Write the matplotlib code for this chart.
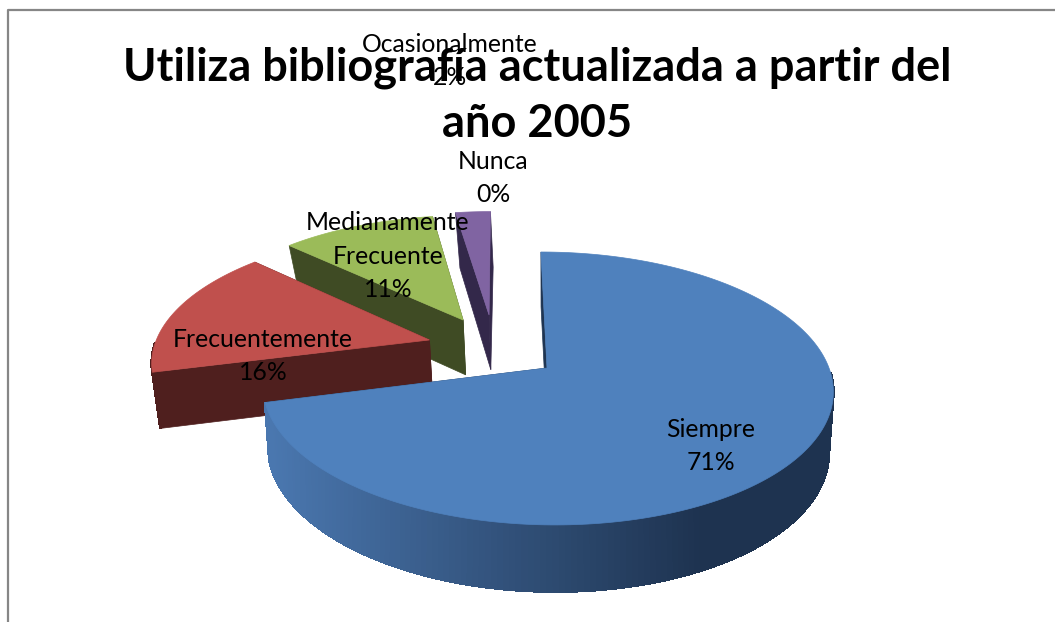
import matplotlib
matplotlib.use('Agg')
import numpy as np
import matplotlib.pyplot as plt
from matplotlib.colors import to_rgb

plt.rcParams['font.family'] = ['Lato', 'DejaVu Sans']

title = 'Utiliza bibliografía actualizada a partir del\naño 2005'
categories = ['Siempre', 'Frecuentemente', 'Medianamente\nFrecuente', 'Ocasionalmente', 'Nunca']
values = [71, 16, 10.6, 2.4, 0]

top_colors = ['#4F81BD', '#C0504D', '#9BBB59', '#8064A2', '#4BACC6']
side_colors = ['#1F3552', '#4F1F1E', '#3F4B24', '#33284A', '#1E4550']
# how far each slice is pulled out of the pie (in radii, x right / y towards viewer)
offsets = [(0, 0), (-0.425, -0.217), (-0.305, -0.38), (-0.208, -0.4225), (0, 0)]
label_pos = [(711, 446), (263, 356), (388, 256), (450, 61), (493, 178)]

cx, cy = 547, 368


def top_plane(x, y):
    d = 1 - 0.15 * y
    return cx + (282 * x + 7 * y) / d, cy + 133.4 * y / d


def bottom_plane(x, y):
    d = 1 - 0.1766 * y
    return cx + (276 * x + 7 * y) / d, cy + 56 + 138 * y / d


def rim_shade(px):
    # blue wall goes from light on the left to dark on the right
    t = np.clip((px - 270) / 430, 0, 1)
    a = np.array(to_rgb('#4A77AF'))
    b = np.array(to_rgb('#1E3350'))
    return tuple(a + (b - a) * t)


fig = plt.figure(figsize=(10.55, 6.22), dpi=100)
ax = fig.add_axes([0, 0, 1, 1])
ax.set_xlim(0, 1055)
ax.set_ylim(622, 0)
ax.axis('off')

# chart border, only partly visible in the original
ax.plot([8, 8, 1055], [622, 10, 10], color='#868686', lw=1.6)

edges = np.cumsum([0] + values) / sum(values) * 2 * np.pi

# back to front
for i in [3, 2, 1, 0]:
    if values[i] == 0:
        continue
    ox, oy = offsets[i]
    th = np.linspace(edges[i], edges[i + 1], 240)
    xs = ox + np.sin(th)
    ys = oy - np.cos(th)
    tx, ty = top_plane(xs, ys)
    bx, by = bottom_plane(xs, ys)
    ax_t, ay_t = top_plane(ox, oy)
    ax_b, ay_b = bottom_plane(ox, oy)

    # the two cut faces
    for j in [0, -1]:
        ax.fill([ax_t, tx[j], bx[j], ax_b], [ay_t, ty[j], by[j], ay_b],
                color=side_colors[i], lw=0.5)

    # outer wall, only the part facing us
    for k in range(len(th) - 1):
        if np.cos(th[k]) > -0.02:
            continue
        c = rim_shade(tx[k]) if i == 0 else side_colors[i]
        ax.fill([tx[k], tx[k + 1], bx[k + 1], bx[k]], [ty[k], ty[k + 1], by[k + 1], by[k]],
                color=c, lw=1.2, antialiased=False)

    ax.fill(np.r_[ax_t, tx], np.r_[ay_t, ty], color=top_colors[i], lw=0.5)

ax.text(537, 96, title, ha='center', va='center', fontsize=32.5, fontweight='bold',
        linespacing=1.42, color='black')

for name, v, pos in zip(categories, values, label_pos):
    pct = round(v / sum(values) * 100)
    ax.text(pos[0], pos[1], '%s\n%d%%' % (name, pct), ha='center', va='center',
            fontsize=17.8, linespacing=1.55, color='black')

fig.savefig('out.png', dpi=100)
